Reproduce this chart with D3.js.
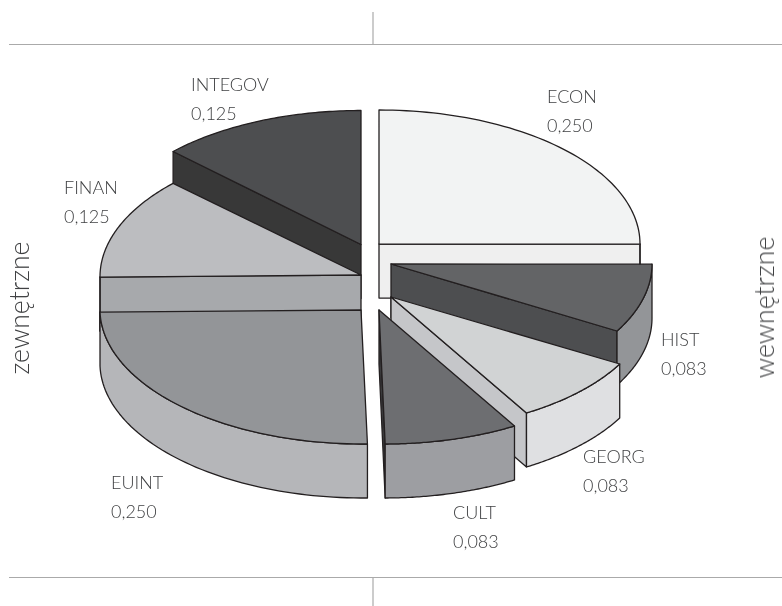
<!DOCTYPE html>
<html><head><meta charset="utf-8">
<script src="https://cdn.jsdelivr.net/npm/d3@7"></script>
<style>html,body{margin:0;padding:0;background:#fff}svg{display:block}text{font-family:"Lato","Open Sans",sans-serif;font-weight:300;fill:#3f4042}</style>
</head><body><svg id="c" width="782" height="606"></svg>
<script>
// data
const categories = ["ECON","HIST","GEORG","CULT","EUINT","FINAN","INTEGOV"];
const values = [0.250,0.083,0.083,0.083,0.250,0.125,0.125];
const valueLabels = ["0,250","0,083","0,083","0,083","0,250","0,125","0,125"];
const sideLabels = ["zewnętrzne","wewnętrzne"];
// styling and layout
const topColors  = ["#f2f3f3","#636466","#d1d3d4","#6d6e71","#939598","#bcbdc0","#4d4e50"];
const wallColors = ["#efefef","#939598","#dfe0e2","#9d9ea2","#b5b6b9","#a7a9ac","#363636"];
const faceColors = ["#efefef","#4d4e50","#c5c6c9","#3a3a3c","#b5b6b9","#a7a9ac","#383838"];
const centres = [[379,244],[391,264],[391,297],[379,310],[361,310],[361,275],[361,244.5]];
const shears  = [0,0,0.04,0.04,0.042,0,0];
const tilts   = [0,0,0,0,-0.007,-0.007,0];
const warps   = [0,0,0,0,0,1,1];
const labelPos = [[547,103],[661,346],[583,463],[453,519],[111,489],[64,194],[191,91]];
const paintOrder = [0,6,5,4,1,2,3];
const rx = 261, ry = 134, depth = 54;

const svg = d3.select("#c");
const arcs = d3.pie().sort(null)(values);
const line = d3.line();
const deg = Math.PI/180;

function project(i, a0, dz){
  const [cx,cy] = centres[i];
  const a = a0 + warps[i]*deg*Math.sin(2*a0);
  const dy = -Math.cos(a)*ry, dx = Math.sin(a)*rx;
  return [cx + dx + shears[i]*dy, cy + dy + tilts[i]*dx + dz];
}
function angles(a0,a1){ return d3.range(0,61).map(k=>a0+(a1-a0)*k/60); }
function stroke(sel){ return sel.attr("stroke","#231f20").attr("stroke-width",1.3).attr("stroke-linejoin","round"); }

paintOrder.forEach(i=>{
  const d = arcs[i], g = svg.append("g").attr("class","slice");
  const a0=d.startAngle, a1=d.endAngle, c=centres[i];
  const apex=[c[0],c[1]], apexB=[c[0],c[1]+depth];
  const rad = a => {
    const p=project(i,a,0), q=project(i,a,depth);
    stroke(g.append("path").attr("fill",faceColors[i]).attr("d",line([apex,p,q,apexB])+"Z"));
  };
  if (i<=3) rad(a1);
  if (i===5||i===6) rad(a0);
  const w0=Math.max(a0,Math.PI/2), w1=Math.min(a1,3*Math.PI/2);
  if (w1>w0){
    const top=angles(w0,w1).map(a=>project(i,a,0));
    const bot=angles(w0,w1).reverse().map(a=>project(i,a,depth));
    stroke(g.append("path").attr("fill",wallColors[i]).attr("d",line(top.concat(bot))+"Z"));
  }
  const pts=[apex].concat(angles(a0,a1).map(a=>project(i,a,0)));
  stroke(g.append("path").attr("fill",topColors[i]).attr("d",line(pts)+"Z"));
});

const tg = svg.append("g").attr("opacity",0.995);
categories.forEach((n,i)=>{
  const [x,y]=labelPos[i];
  tg.append("text").attr("x",x).attr("y",y).attr("font-size",18).text(n);
  tg.append("text").attr("x",x).attr("y",y+29).attr("font-size",18).text(valueLabels[i]);
});
[[29,308],[774,307.5]].forEach((p,k)=>{
  tg.append("text").attr("transform",`translate(${p[0]},${p[1]}) rotate(-90)`)
    .attr("text-anchor","middle").attr("font-size",26.6).text(sideLabels[k]);
});
const rule=(x1,y1,x2,y2)=>svg.append("line").attr("x1",x1).attr("y1",y1).attr("x2",x2).attr("y2",y2).attr("stroke","#aaaaaa").attr("stroke-width",1.2);
rule(9,44.5,782,44.5); rule(373,12,373,44);
rule(9,577.5,782,577.5); rule(373,577,373,606);
</script></body></html>
